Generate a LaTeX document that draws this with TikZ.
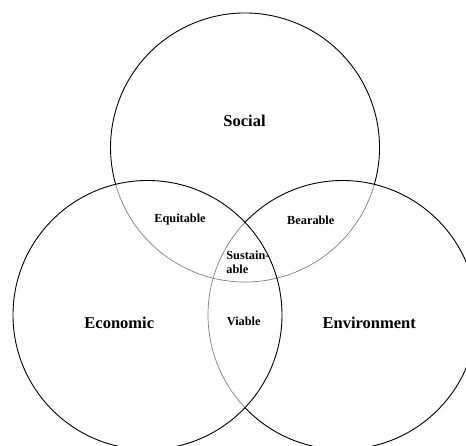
\documentclass[tikz,border=0pt]{standalone}
\usepackage{fontspec}
\setmainfont{Liberation Serif}

\begin{document}
\begin{tikzpicture}[x=1pt,y=1pt,
		ring/.style={draw=black,line width=0.9pt},
		inner ring/.style={draw=gray,line width=0.7pt},
		big label/.style={font=\bfseries\fontsize{16.5}{18}\selectfont},
		small label/.style={font=\bfseries\fontsize{12.3}{13.6}\selectfont}]
			\useasboundingbox (0,0) rectangle (466,446);
			\clip (0,0) rectangle (466,446);
			
			\coordinate (social) at (245,298.5);
			\coordinate (economic) at (147.5,131);
			\coordinate (environment) at (342.5,131);
			
			% parts lying inside another circle are grey
			\draw[inner ring] ([shift={(195.9:134.5)}]social) arc[start angle=195.9,end angle=344.1,radius=134.5];
			\draw[inner ring] ([shift={(136.5:134.5)}]environment) arc[start angle=136.5,end angle=223.5,radius=134.5];
			
			\draw[ring] ([shift={(344.1:134.5)}]social) arc[start angle=344.1,end angle=555.9,radius=134.5];
			\draw[ring] (economic) circle[radius=134.5];
			\draw[ring] ([shift={(223.5:134.5)}]environment) arc[start angle=223.5,end angle=496.5,radius=134.5];
			
			\node[big label] (soc) at (244.5,325.3) {Social};
			\node[big label] (eco) at (119.3,123) {Economic};
			\node[big label] (env) at (369.3,123) {Environment};
			
			\node[small label] (equ) at (180,226) {Equitable};
			\node[small label] (bea) at (310.8,226) {Bearable};
			\node[small label,align=left,anchor=west,inner sep=0pt] (sus) at (226.2,183.5) {Sustain-\\able};
			\node[small label] (via) at (243.7,124.3) {Viable};
		\end{tikzpicture}
\end{document}
